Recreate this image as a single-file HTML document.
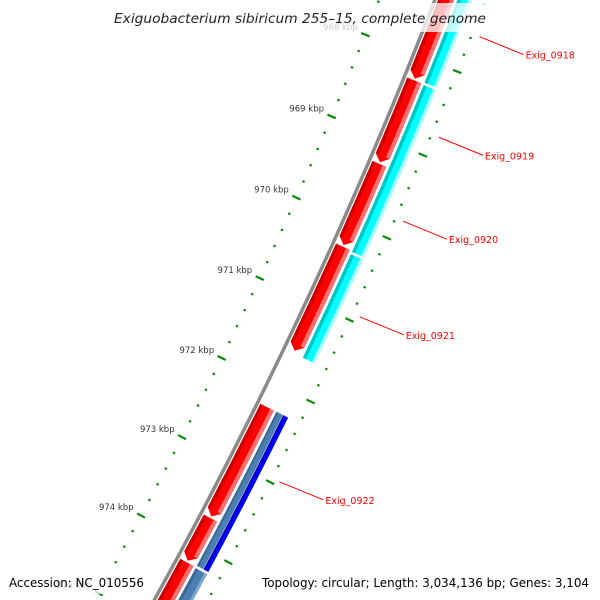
<!DOCTYPE html>
<html><head><meta charset="utf-8"><style>
html,body{margin:0;padding:0;background:#fff;width:600px;height:600px;overflow:hidden;}
svg{display:block;}
</style></head><body>
<svg id="map" width="600" height="600" viewBox="0 0 600 600" xmlns="http://www.w3.org/2000/svg" style="overflow:hidden">
<g id="rings"></g>
<g id="ticks"></g>
<g id="labels"></g>
<rect x="108" y="3" width="384" height="29" fill="#fff" opacity="0.75"/>
<text x="300" y="23" text-anchor="middle" font-family="DejaVu Sans, sans-serif" font-style="italic" font-size="13.5" fill="#222" textLength="372" lengthAdjust="spacingAndGlyphs">Exiguobacterium sibiricum 255–15, complete genome</text>
<rect x="5" y="572" width="143" height="22" fill="#fff" opacity="0.75"/>
<text x="9" y="587" font-family="DejaVu Sans, sans-serif" font-size="12.5" fill="#000" textLength="135" lengthAdjust="spacingAndGlyphs">Accession: NC_010556</text>
<rect x="257" y="572" width="338" height="22" fill="#fff" opacity="0.75"/>
<text x="589" y="587" text-anchor="end" font-family="DejaVu Sans, sans-serif" font-size="12.5" fill="#000" textLength="327" lengthAdjust="spacingAndGlyphs">Topology: circular; Length: 3,034,136 bp; Genes: 3,104</text>
</svg>
<script>
// ---- data ----
const tickKbp = [966,967,968,969,970,971,972,973,974,975,976];
const tickLabels = ["966 kbp","967 kbp","968 kbp","969 kbp","970 kbp","971 kbp","972 kbp","973 kbp","974 kbp","975 kbp","976 kbp"];
const fwdGeneStarts = [966.8, 968.25, 969.26, 970.27, 972.25, 973.64, 974.2];
const fwdGeneEnds   = [968.25, 969.26, 970.27, 971.57, 973.64, 974.2, 976.0];
const fwdGeneNames  = ["Exig_0918","Exig_0919","Exig_0920","Exig_0921","Exig_0922","",""];
const fwdLabelAt    = [967.55, 968.75, 969.76, 970.92, 972.95, null, null];
const cyanStarts = [966.8, 968.25, 970.3];
const cyanEnds   = [968.25, 970.3, 971.6];
const splitStarts = [972.25];
const splitEnds   = [974.2];
const steelStarts = [974.2];
const steelEnds   = [976.0];

// ---- geometry ----
const NS='http://www.w3.org/2000/svg';
const RT=4870, CX=-4154, CY=-1780, A0=25, DA=1.041, OFF=6;
function ang(k){return (A0+(k-971)*DA)*Math.PI/180;}
function pt(r,k){const a=ang(k);return [CX+r*Math.cos(a),CY+r*Math.sin(a)];}
function f(p){return p[0].toFixed(2)+' '+p[1].toFixed(2);}
function bandPath(r1,r2,k1,k2){
  return 'M'+f(pt(r1,k1))+' A'+r1+' '+r1+' 0 0 1 '+f(pt(r1,k2))+' L'+f(pt(r2,k2))+' A'+r2+' '+r2+' 0 0 0 '+f(pt(r2,k1))+' Z';
}
function arrowPath(r1,r2,k1,k2,d){
  const rm=(r1+r2)/2;
  return 'M'+f(pt(r1,k1))+' A'+r1+' '+r1+' 0 0 1 '+f(pt(r1,k2-d))+' L'+f(pt(rm,k2))+' L'+f(pt(r2,k2-d))+' A'+r2+' '+r2+' 0 0 0 '+f(pt(r2,k1))+' Z';
}
const rings=document.getElementById('rings');
function addPath(g,d,fill,name){
  const p=document.createElementNS(NS,'path');
  p.setAttribute('d',d);p.setAttribute('fill',fill);
  
  
  g.appendChild(p);return p;
}
// backbone
const RB=RT+46+OFF;
const bb=document.createElementNS(NS,'path');
bb.setAttribute('d','M'+f(pt(RB,966))+' A'+RB+' '+RB+' 0 0 1 '+f(pt(RB,976)));
bb.setAttribute('fill','none');bb.setAttribute('stroke','#8a8a8a');bb.setAttribute('stroke-width','3.5');


rings.appendChild(bb);

// forward genes (red)
const R1=RT+49+OFF,R2=RT+64+OFF,D=0.075;
for(let i=0;i<fwdGeneStarts.length;i++){
  const k1=fwdGeneStarts[i]+0.02,k2=fwdGeneEnds[i];
  addPath(rings,arrowPath(R1,R2,k1,k2,D),'#ff0000','forward-gene');
  addPath(rings,bandPath(R1,R1+3.5,k1,k2-D),'#cc0000','forward-gene-shade');
  addPath(rings,bandPath(R2-4,R2,k1,k2-D),'#ff6e6e','forward-gene-highlight');
}
// second ring
const Q1=RT+67+OFF,Q2=RT+80+OFF;
for(let i=0;i<cyanStarts.length;i++){
  const k1=cyanStarts[i]+0.03,k2=cyanEnds[i];
  addPath(rings,bandPath(Q1,Q2,k1,k2),'#00ffff','cyan-feature');
  addPath(rings,bandPath(Q1,Q1+3.5,k1,k2),'#00c8c8','cyan-feature-shade');
  addPath(rings,bandPath(Q2-3,Q2,k1,k2),'#a0ffff','cyan-feature-highlight');
}
for(let i=0;i<splitStarts.length;i++){
  const k1=splitStarts[i]+0.02,k2=splitEnds[i];
  addPath(rings,bandPath(Q1,Q1+7,k1,k2),'#4a7fb0','steelblue-feature');
  addPath(rings,bandPath(Q1,Q1+2,k1,k2),'#3a6a98','steelblue-feature-shade');
  addPath(rings,bandPath(Q1+7.5,Q2,k1,k2),'#0000ff','blue-feature');
  addPath(rings,bandPath(Q1+7.5,Q1+9.5,k1,k2),'#0000c0','blue-feature-shade');
}
for(let i=0;i<steelStarts.length;i++){
  const k1=steelStarts[i]+0.03,k2=steelEnds[i];
  addPath(rings,bandPath(Q1,Q2,k1,k2),'#4a7fb0','steelblue-feature');
  addPath(rings,bandPath(Q1,Q1+3,k1,k2),'#3a6a98','steelblue-feature-shade');
  addPath(rings,bandPath(Q2-3,Q2,k1,k2),'#7fa6cc','steelblue-feature-highlight');
}

// ticks
const tg=document.getElementById('ticks');
function tick(r,k,len,w,name){
  const a=pt(r-len,k),b=pt(r+len,k);
  const l=document.createElementNS(NS,'line');
  l.setAttribute('x1',a[0]);l.setAttribute('y1',a[1]);l.setAttribute('x2',b[0]);l.setAttribute('y2',b[1]);
  l.setAttribute('stroke','#0a8a0a');l.setAttribute('stroke-width',w);
  
  
  tg.appendChild(l);
}
const RO=RT+93+OFF;
for(let i=0;i<tickKbp.length;i++){
  const k=tickKbp[i];
  tick(RT,k,4.5,2.2,'major-tick');
  tick(RO,k,4.5,2.2,'outer-major-tick');
  for(let j=1;j<5;j++){
    tick(RT,k+j*0.2,1.2,2.2,'minor-tick');
    tick(RO,k+j*0.2,1.2,2.2,'outer-minor-tick');
  }
  const p=pt(RT-5,k);
  const t=document.createElementNS(NS,'text');
  t.setAttribute('x',(p[0]-3).toFixed(1));t.setAttribute('y',(p[1]-3).toFixed(1));
  t.setAttribute('text-anchor','end');t.setAttribute('font-family','DejaVu Sans, sans-serif');
  t.setAttribute('font-size','8.5');t.setAttribute('fill','#333');
  t.textContent=tickLabels[i];
  
  
  tg.appendChild(t);
}

// gene labels
const lg=document.getElementById('labels');
for(let i=0;i<fwdGeneNames.length;i++){
  if(!fwdGeneNames[i])continue;
  const s=pt(RT+101+OFF,fwdLabelAt[i]);
  const e=[s[0]+44,s[1]+18];
  const l=document.createElementNS(NS,'line');
  l.setAttribute('x1',s[0]);l.setAttribute('y1',s[1]);l.setAttribute('x2',e[0]);l.setAttribute('y2',e[1]);
  l.setAttribute('stroke','#ff0000');l.setAttribute('stroke-width','1');
  
  
  lg.appendChild(l);
  const t=document.createElementNS(NS,'text');
  t.setAttribute('x',(e[0]+2).toFixed(1));t.setAttribute('y',(e[1]+4).toFixed(1));
  t.setAttribute('font-family','DejaVu Sans, sans-serif');t.setAttribute('font-size','9.5');
  t.setAttribute('fill','#ff0000');
  t.textContent=fwdGeneNames[i];
  
  
  lg.appendChild(t);
}
</script>
</body></html>
